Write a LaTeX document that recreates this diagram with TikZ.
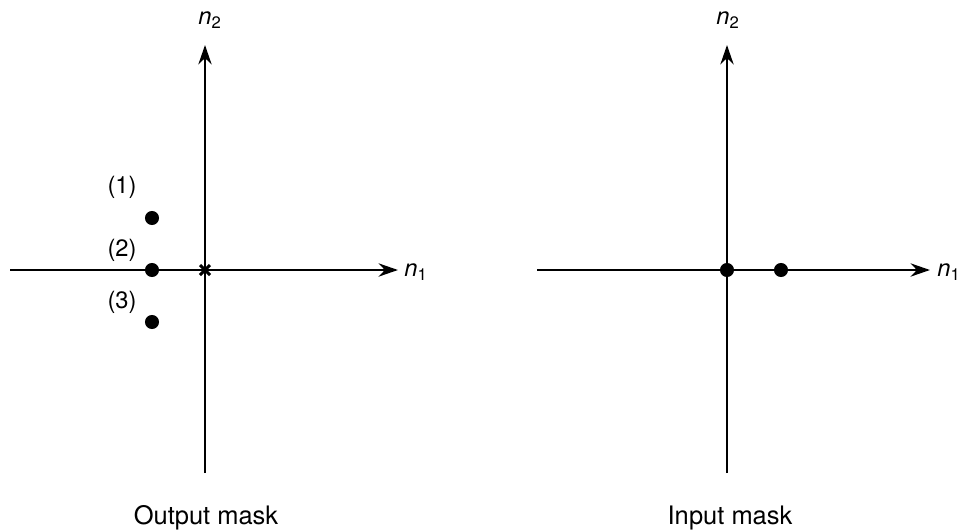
\documentclass[tikz,border=0pt]{standalone}
\usepackage{fontspec}
\setmainfont{TeX Gyre Heros}
\usetikzlibrary{arrows.meta,calc}
\tikzset{
  axis/.style={line width=1.6pt,-{Stealth[length=11pt,width=7.5pt]}},
  dotpt/.style={circle,fill=black,inner sep=0pt,minimum size=8pt},
  lbl/.style={font=\fontsize{13.5}{15}\selectfont,inner sep=0pt},
  captxt/.style={font=\fontsize{14.5}{16}\selectfont,inner sep=0pt},
}
\newcommand{\nsub}[1]{\textit{n}\textsubscript{#1}}
\begin{document}
\begin{tikzpicture}[x=0.02cm,y=-0.02cm]
\useasboundingbox (0,0) rectangle (961,531);
% left plot
\coordinate (lb) at (205,473);
\coordinate (lt) at (205,45);
\coordinate (ll) at (10,270);
\coordinate (lr) at (398,270);
\draw[axis] (lb) -- (lt);
\draw[axis] (ll) -- (lr);
\node[lbl] (ln2) at (210,20) {\nsub{2}};
\node[lbl,anchor=west] (ln1) at (404,272) {\nsub{1}};
\coordinate (lo) at (205,270);
\draw[line width=1.8pt] ($(lo)+(-5,-5)$) -- ($(lo)+(5,5)$) ($(lo)+(-5,5)$) -- ($(lo)+(5,-5)$);
\node[dotpt] (d1) at (152,218) {};
\node[dotpt] (d2) at (152,270) {};
\node[dotpt] (d3) at (152,322) {};
\node[lbl] (l1) at (122,187) {(1)};
\node[lbl] (l2) at (122,250) {(2)};
\node[lbl] (l3) at (122,302) {(3)};
\node[captxt] (c1) at (206,518) {Output mask};
% right plot
\coordinate (rb) at (727,473);
\coordinate (rt) at (727,45);
\coordinate (rl) at (537,270);
\coordinate (rr) at (930,270);
\draw[axis] (rb) -- (rt);
\draw[axis] (rl) -- (rr);
\node[lbl] (rn2) at (728,20) {\nsub{2}};
\node[lbl,anchor=west] (rn1) at (937,272) {\nsub{1}};
\node[dotpt] (e1) at (727,270) {};
\node[dotpt] (e2) at (781,270) {};
\node[captxt] (c2) at (730,518) {Input mask};
\end{tikzpicture}
\end{document}
